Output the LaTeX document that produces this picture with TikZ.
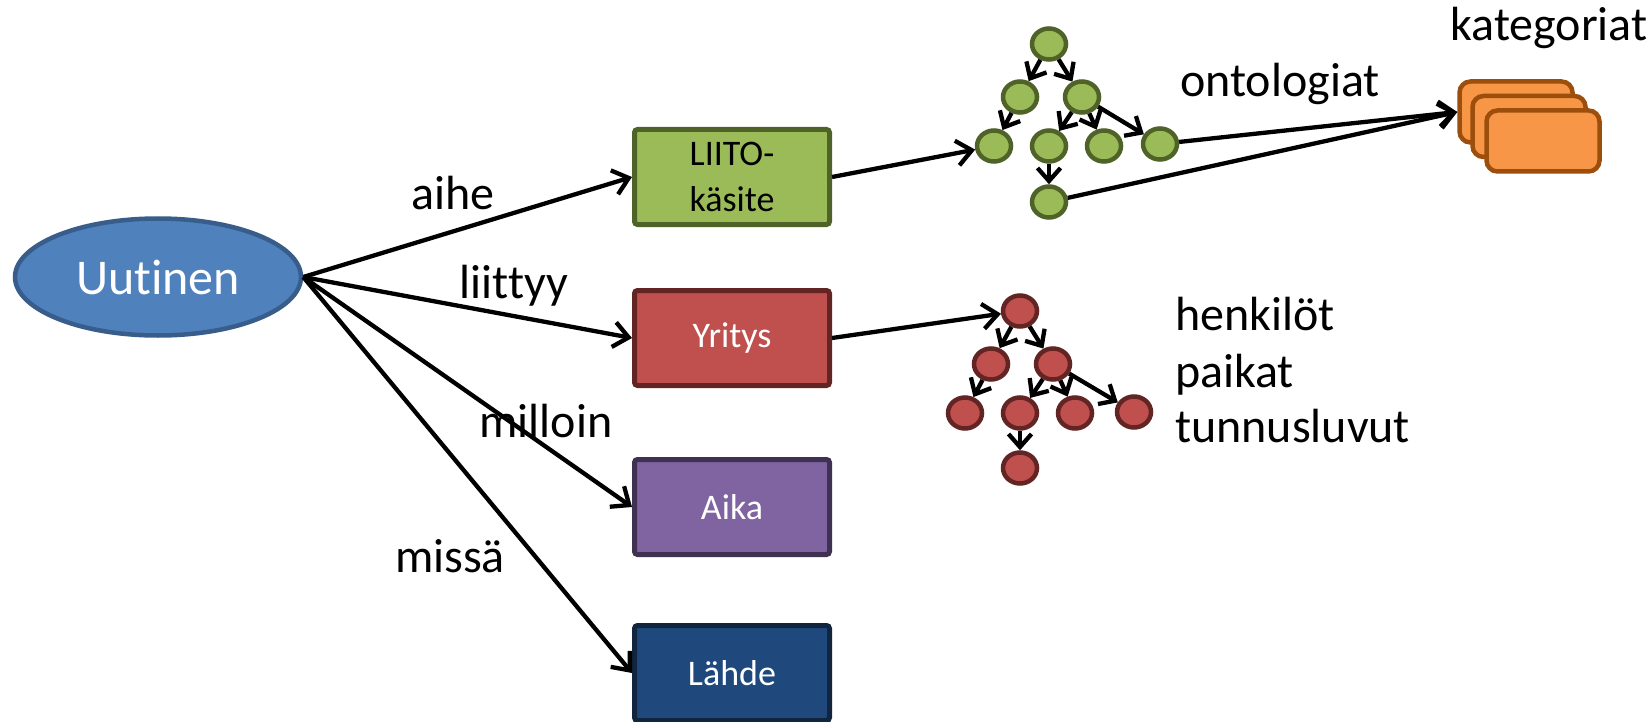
\documentclass[tikz,border=0pt]{standalone}
\usepackage{fontspec}
\setmainfont[Ligatures={NoCommon}]{Carlito}
\usetikzlibrary{arrows.meta,shapes.geometric}
\definecolor{gfill}{HTML}{9BBB59}
\definecolor{gline}{HTML}{4F6228}
\definecolor{rfill}{HTML}{C0504D}
\definecolor{rline}{HTML}{632523}
\definecolor{pfill}{HTML}{8064A2}
\definecolor{pline}{HTML}{3F3151}
\definecolor{bfill}{HTML}{1F497D}
\definecolor{bline}{HTML}{11253F}
\definecolor{efill}{HTML}{4F81BD}
\definecolor{eline}{HTML}{385D8A}
\definecolor{ofill}{HTML}{F79646}
\definecolor{oline}{HTML}{9C4E0C}
\begin{document}
\begin{tikzpicture}[x=1pt,y=-1pt,
  conn/.style={line width=4.3pt,-{Straight Barb[length=15pt,width=25pt]}},
  tconn/.style={line width=4.3pt,-{Straight Barb[length=13pt,width=23pt]}},
  box/.style={rectangle,rounded corners=3pt,line width=5pt,minimum width=195pt,minimum height=95pt,inner sep=0pt,font=\fontsize{36}{46}\selectfont,align=center},
  gnode/.style={ellipse,draw=gline,fill=gfill,line width=4.5pt,minimum width=34pt,minimum height=31pt,inner sep=0pt},
  rnode/.style={ellipse,draw=rline,fill=rfill,line width=4.5pt,minimum width=34pt,minimum height=31pt,inner sep=0pt},
  orect/.style={rectangle,rounded corners=11pt,draw=oline,fill=ofill,line width=4.5pt,minimum width=113pt,minimum height=61pt,inner sep=0pt},
  lbl/.style={font=\fontsize{48}{56}\selectfont,anchor=base,inner sep=0pt},
  lblw/.style={font=\fontsize{48}{56}\selectfont,anchor=base west,inner sep=0pt}]
\useasboundingbox (0,0) rectangle (1651,722);

% main ellipse
\node[ellipse,draw=eline,fill=efill,line width=4.5pt,minimum width=286pt,minimum height=117pt,inner sep=0pt,
      text=white,font=\fontsize{50}{54}\selectfont] (U) at (158,277) {Uutinen};

% boxes
\node[box,draw=gline,fill=gfill,text=black] (liito) at (732,177) {LIITO-\\käsite};
\node[box,draw=rline,fill=rfill,text=white] (yritys) at (732,338) {Yritys};
\node[box,draw=pline,fill=pfill,text=white] (aika) at (732,507) {Aika};
\node[box,draw=bline,fill=bfill,text=white] (lahde) at (732,673) {Lähde};

% edges from Uutinen
\draw[conn] (U.east) -- (liito.west);
\draw[conn] (U.east) -- (yritys.west);
\draw[conn] (U.east) -- (aika.west);
\draw[conn] (U.east) -- (lahde.west);

% edge labels
\node[lbl] (laihe) at (453,210) {aihe};
\node[lbl] (lliit) at (514,298) {liittyy};
\node[lbl] (lmill) at (546,437) {milloin};
\node[lbl] (lmiss) at (450,572) {missä};

% green tree
\node[gnode] (gT) at (1049,44) {};
\node[gnode] (gA) at (1020,97) {};
\node[gnode] (gB) at (1082,97) {};
\node[gnode] (gC) at (994,146) {};
\node[gnode] (gD) at (1049,146) {};
\node[gnode] (gE) at (1104,146) {};
\node[gnode] (gF) at (1160,144) {};
\node[gnode] (gG) at (1049,202) {};
\draw[tconn] (gT) -- (gA);
\draw[tconn] (gT) -- (gB);
\draw[tconn] (gA) -- (gC);
\draw[tconn] (gB) -- (gD);
\draw[tconn] (gB) -- (gE);
\draw[tconn] (gB) -- (gF);
\draw[tconn] (gD) -- (gG);
\draw[conn] (liito.east) -- (gC);

% red tree
\node[rnode] (rT) at (1020,311) {};
\node[rnode] (rA) at (991,364) {};
\node[rnode] (rB) at (1053,364) {};
\node[rnode] (rC) at (965,413) {};
\node[rnode] (rD) at (1020,413) {};
\node[rnode] (rE) at (1075,413) {};
\node[rnode] (rF) at (1134,412) {};
\node[rnode] (rG) at (1020,468) {};
\draw[tconn] (rT) -- (rA);
\draw[tconn] (rT) -- (rB);
\draw[tconn] (rA) -- (rC);
\draw[tconn] (rB) -- (rD);
\draw[tconn] (rB) -- (rE);
\draw[tconn] (rB) -- (rF);
\draw[tconn] (rD) -- (rG);
\draw[conn] (yritys.east) -- (rT);

% orange stack
\node[orect] (o1) at (1516,112) {};
\node[orect] (o2) at (1529,126.5) {};
\node[orect] (o3) at (1543,141) {};
\draw[conn] (gF) -- (o1.west);
\draw[conn] (gG) -- (o1.west);

% texts
\node[lbl] (tkat) at (1549,41) {kategoriat};
\node[lbl] (tont) at (1280,97) {ontologiat};
\node[lblw] (thenk) at (1175,330) {henkilöt};
\node[lblw] (tpaik) at (1175,387) {paikat};
\node[lblw] (ttunn) at (1175,442) {tunnusluvut};
\end{tikzpicture}
\end{document}
